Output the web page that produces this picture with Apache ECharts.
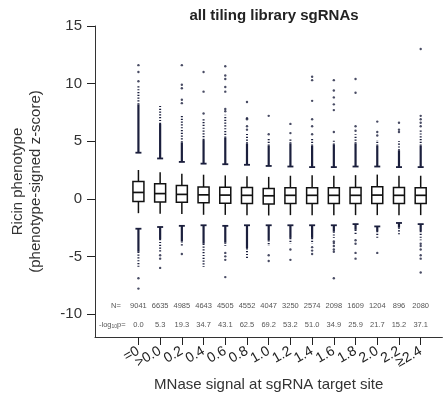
<!DOCTYPE html>
<html>
<head>
<meta charset="utf-8">
<script src="https://cdn.jsdelivr.net/npm/echarts@6/dist/echarts.min.js"></script>
<style>
  html, body { margin: 0; padding: 0; background: #fff; }
  #chart { width: 445px; height: 404px; }
</style>
</head>
<body>
<div id="chart"></div>
<script>
// MNase signal bins
const categories = ['=0', '>0.0', '0.2', '0.4', '0.6', '0.8', '1.0', '1.2', '1.4', '1.6', '1.8', '2.0', '2.2', '≥2.4']
const nValues = [9041, 6635, 4985, 4643, 4505, 4552, 4047, 3250, 2574, 2098, 1609, 1204, 896, 2080]
const logP = ['0.0', '5.3', '19.3', '34.7', '43.1', '62.5', '69.2', '53.2', '51.0', '34.9', '25.9', '21.7', '15.2', '37.1']

// box stats
const whiskerHigh = [2.5, 2.3, 2.17, 2.09, 2.03, 1.95, 1.9, 2.0, 2.05, 2.0, 2.05, 2.1, 2.0, 2.0]
const q3 = [1.5, 1.3, 1.16, 1.02, 1.0, 0.97, 0.9, 0.95, 0.95, 0.95, 0.97, 1.05, 0.97, 0.95]
const median = [0.55, 0.45, 0.38, 0.34, 0.32, 0.3, 0.26, 0.3, 0.3, 0.3, 0.3, 0.32, 0.3, 0.3]
const q1 = [-0.23, -0.29, -0.3, -0.35, -0.38, -0.41, -0.45, -0.42, -0.42, -0.42, -0.42, -0.42, -0.42, -0.42]
const whiskerLow = [-1.25, -1.3, -1.33, -1.39, -1.4, -1.42, -1.45, -1.42, -1.42, -1.42, -1.42, -1.42, -1.42, -1.42]

// outlier columns: [start, end of solid part, end of dotted part]
const upperCols = [
  [4.0, 8.2, 9.9], [3.5, 6.5, 8.1], [3.2, 4.9, 7.2], [3.05, 5.1, 6.9], [3.0, 5.3, 7.3],
  [2.95, 4.8, 5.7], [2.85, 4.6, 5.3], [2.8, 4.8, 5.2], [2.75, 4.6, 5.2], [2.75, 4.7, 5.2],
  [2.8, 4.8, 5.6], [2.8, 4.6, 5.1], [2.75, 4.2, 5.0], [2.75, 4.6, 6.0]
]
const lowerCols = [
  [-2.6, -4.6, -5.9], [-2.45, -3.5, -4.6], [-2.35, -3.7, -4.1], [-2.3, -3.9, -5.9], [-2.35, -3.8, -4.1],
  [-2.3, -4.3, -5.2], [-2.3, -3.6, -4.1], [-2.3, -3.4, -3.9], [-2.3, -3.4, -3.9], [-2.3, -2.85, -3.4],
  [-2.2, -2.7, -3.1], [-2.4, -2.8, -3.4], [-2.1, -2.5, -3.1], [-2.2, -2.8, -3.6]
]
const sparseOutliers = [
  [10.2, 11.0, 11.6, -6.9, -7.8],
  [-4.9, -5.2, -6.0],
  [11.6, 9.9, 9.6, 8.6, 8.3, -4.8],
  [11.0, 9.3, 7.4],
  [11.5, 10.7, 10.4, 9.7, 9.3, 7.8, 7.6, -4.7, -5.0, -5.3, -6.8],
  [8.4, 7.0, 6.9, 6.3, 6.0],
  [7.2, 5.6, -4.9, -5.4],
  [6.5, 5.7, -4.4, -5.3],
  [10.6, 10.3, 8.5, 6.9, 6.3, 5.6, -4.2, -4.5, -4.8],
  [10.3, 9.4, 8.8, 8.2, 7.7, 5.8, -3.7, -3.85, -4.1, -4.4, -4.6, -6.9],
  [10.4, 9.2, 6.3, 5.9, -3.6, -3.9, -4.7, -5.2],
  [6.7, 5.8, 5.5, -4.7],
  [6.6, 6.0, 5.8],
  [13.0, 7.2, 6.9, 6.6, 6.3, -3.9, -4.1, -4.4, -4.9, -5.2, -6.4]
]

const xCats = ['', ''].concat(categories, [''])
const offset = 2
const dotColor = '#1b1f3d'
const textColor = '#333'
const font = 'Liberation Sans, Arial, Helvetica, sans-serif'

const boxData = categories.map((c, i) => [i + offset, whiskerLow[i], q1[i], median[i], q3[i], whiskerHigh[i]])
const colData = categories.map((c, i) => [i + offset].concat(upperCols[i], lowerCols[i]))
const pointData = []
sparseOutliers.forEach((arr, i) => {
  arr.forEach((v) => pointData.push([i + offset, v]))
})
const statData = categories.map((c, i) => [i + offset, nValues[i], logP[i]])

const myChart = echarts.init(document.getElementById('chart'))

const drawCol = (api, x, s, e, d) => {
  const p0 = api.coord([x, s])
  const p1 = api.coord([x, e])
  const p2 = api.coord([x, d])
  return [
    {
      type: 'line',
      shape: { x1: p0[0] - 3, y1: p0[1], x2: p0[0] + 3, y2: p0[1] },
      style: { stroke: dotColor, lineWidth: 1.8 },
    },
    {
      type: 'line',
      shape: { x1: p0[0], y1: p0[1], x2: p1[0], y2: p1[1] },
      style: { stroke: dotColor, lineWidth: 2.2 },
    },
    {
      type: 'line',
      shape: { x1: p1[0], y1: p1[1], x2: p2[0], y2: p2[1] },
      style: { stroke: dotColor, lineWidth: 2, lineDash: [1.2, 1.6] },
    },
  ]
}

const option = {
  animation: false,
  title: {
    text: 'all tiling library sgRNAs',
    left: 269,
    top: 3,
    textAlign: 'center',
    textStyle: { fontFamily: font, fontSize: 15, fontWeight: 'bold', color: '#222' },
  },
  grid: { left: 95, right: -2, top: 26, bottom: 67 },
  xAxis: {
    type: 'category',
    data: xCats,
    boundaryGap: false,
    name: 'MNase signal at sgRNA target site',
    nameLocation: 'middle',
    nameGap: 40,
    nameTextStyle: { fontFamily: font, fontSize: 15, color: textColor },
    axisLine: { onZero: false, lineStyle: { color: '#333', width: 1 } },
    axisTick: {
      length: 8,
      lineStyle: { color: '#222', width: 1 },
      interval: (idx) => idx >= offset && idx < offset + categories.length,
    },
    axisLabel: {
      interval: 0,
      rotate: 30,
      margin: 13,
      fontFamily: font,
      fontSize: 14,
      color: '#222',
    },
    splitLine: { show: false },
  },
  yAxis: {
    type: 'value',
    min: -12,
    max: 15,
    name: 'Ricin phenotype\n(phenotype-signed z-score)',
    nameLocation: 'middle',
    nameGap: 50,
    nameTextStyle: { fontFamily: font, fontSize: 15, color: textColor, lineHeight: 18 },
    axisLine: { show: true, onZero: false, lineStyle: { color: '#333', width: 1 } },
    axisTick: { show: true, length: 8, customValues: [-10, -5, 0, 5, 10, 15], lineStyle: { color: '#222' } },
    axisLabel: {
      customValues: [-10, -5, 0, 5, 10, 15],
      margin: 13,
      fontFamily: font,
      fontSize: 15,
      color: textColor,
    },
    splitLine: { show: false },
  },
  graphic: [
    {
      type: 'text',
      x: 116,
      y: 306,
      style: { text: 'N=', fontFamily: font, fontSize: 7.5, fill: '#555', align: 'center', verticalAlign: 'middle' },
    },
    {
      type: 'text',
      x: 99,
      y: 325,
      style: {
        text: '-log{s|10}p=',
        fontFamily: font,
        fontSize: 7.5,
        fill: '#555',
        align: 'left',
        verticalAlign: 'middle',
        rich: { s: { fontSize: 5, fill: '#555', verticalAlign: 'bottom', padding: [4, 0, 0, 0] } },
      },
    },
  ],
  series: [
    {
      type: 'custom',
      name: 'columns',
      data: colData,
      renderItem: (params, api) => {
        const x = api.value(0)
        return {
          type: 'group',
          children: drawCol(api, x, api.value(1), api.value(2), api.value(3)).concat(
            drawCol(api, x, api.value(4), api.value(5), api.value(6))
          ),
        }
      },
      z: 2,
    },
    {
      type: 'scatter',
      name: 'outliers',
      data: pointData,
      symbol: 'circle',
      symbolSize: 2.4,
      itemStyle: { color: dotColor },
      z: 2,
    },
    {
      type: 'custom',
      name: 'boxes',
      data: boxData,
      renderItem: (params, api) => {
        const x = api.value(0)
        const low = api.coord([x, api.value(1)])
        const b1 = api.coord([x, api.value(2)])
        const med = api.coord([x, api.value(3)])
        const b3 = api.coord([x, api.value(4)])
        const high = api.coord([x, api.value(5)])
        const hw = 5.5
        const st = { stroke: '#111', lineWidth: 1.5 }
        return {
          type: 'group',
          children: [
            { type: 'line', shape: { x1: low[0], y1: low[1], x2: b1[0], y2: b1[1] }, style: st },
            { type: 'line', shape: { x1: b3[0], y1: b3[1], x2: high[0], y2: high[1] }, style: st },
            {
              type: 'rect',
              shape: { x: b3[0] - hw, y: b3[1], width: hw * 2, height: b1[1] - b3[1] },
              style: { fill: '#fff', stroke: '#111', lineWidth: 1.5 },
            },
            {
              type: 'line',
              shape: { x1: med[0] - hw, y1: med[1], x2: med[0] + hw, y2: med[1] },
              style: { stroke: '#111', lineWidth: 1.7 },
            },
          ],
        }
      },
      z: 3,
    },
    {
      type: 'custom',
      name: 'stats',
      data: statData,
      renderItem: (params, api) => {
        const x = api.value(0)
        const pN = api.coord([x, -9.3])
        const pP = api.coord([x, -10.95])
        const ts = { fontFamily: font, fontSize: 7.5, fill: '#555', align: 'center', verticalAlign: 'middle' }
        return {
          type: 'group',
          children: [
            { type: 'text', x: pN[0], y: pN[1], style: Object.assign({ text: String(api.value(1)) }, ts) },
            { type: 'text', x: pP[0], y: pP[1], style: Object.assign({ text: statData[params.dataIndex][2] }, ts) },
          ],
        }
      },
      z: 3,
    },
  ],
}

myChart.setOption(option)
</script>
</body>
</html>
